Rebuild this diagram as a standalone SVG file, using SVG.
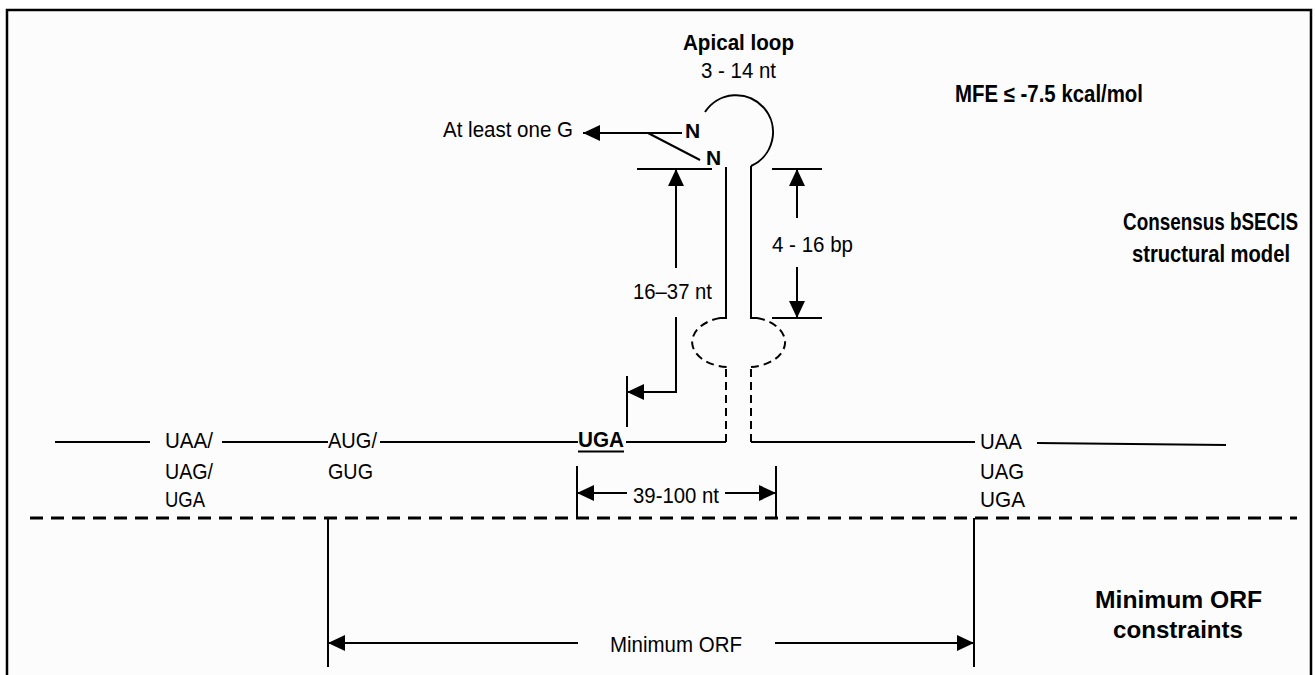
<svg xmlns="http://www.w3.org/2000/svg" width="1315" height="675" viewBox="0 0 1315 675">
<defs>
<style>
.t{font-family:"Liberation Sans",Arial,sans-serif;font-size:22px;fill:#000}
.b{font-weight:bold}
.h{font-weight:bold;font-size:24px;text-anchor:middle}
.ln{stroke:#000;stroke-width:2;fill:none}
.dl{stroke:#000;stroke-width:2;fill:none;stroke-dasharray:8 5}
.ar{stroke:#000;stroke-width:2;fill:none;marker-end:url(#ah)}
</style>
<marker id="ah" markerUnits="userSpaceOnUse" markerWidth="18" markerHeight="16" refX="17" refY="8" orient="auto">
<path d="M0,0 L17,8 L0,16 z" fill="#000"/>
</marker>
</defs>
<rect x="0" y="0" width="1315" height="675" fill="#fff"/>
<rect x="7" y="10" width="1304" height="680" fill="#fcfcfc" stroke="#000" stroke-width="2.5"/>

<g id="connectors">
<path class="ln" d="M55,442H150 M222,442H328 M380,442H578 M626,442H726 M751,442H975 M1037,443L1226,445"/>
<path class="dl" d="M726,442V367 M751,442V367"/>
<path class="dl" d="M720,318 A38,25 0 0 0 727,367 M757,318 A38,25 0 0 1 751,367"/>
<path class="ln" d="M720,318H726V167 M757,318H751V166 M705,112 A37,37 0 1 1 751,166"/>
<path class="ar" d="M682,133H583"/>
<path class="ln" d="M648,133L700,160"/>
<path class="ln" d="M637,169H712"/>
<path class="ar" d="M676,268V169"/>
<path class="ar" d="M676,317V392H627"/>
<path class="ln" d="M627,376V427"/>
<path class="ln" d="M772,169H822 M772,318H822"/>
<path class="ar" d="M797,218V169"/>
<path class="ar" d="M797,267V318"/>
<path class="ln" d="M577,466V518 M776,466V518"/>
<path class="ar" d="M627,493H577"/>
<path class="ar" d="M725,493H776"/>
<path d="M30,518H1297" stroke="#000" stroke-width="3" stroke-dasharray="13 8" fill="none"/>
<path class="ln" d="M328,518V667 M974,518V667"/>
<path class="ar" d="M578,643H328"/>
<path class="ar" d="M775,643H974"/>
<path d="M578,451.5H624" stroke="#000" stroke-width="2"/>
</g>

<g id="apical-loop">
<text class="t b" x="683" y="50" textLength="111" lengthAdjust="spacingAndGlyphs">Apical loop</text>
<text class="t" x="701" y="78" textLength="75" lengthAdjust="spacingAndGlyphs">3 - 14 nt</text>
</g>
<g id="mfe">
<text class="t b" x="955" y="102" style="font-size:23px" textLength="188" lengthAdjust="spacingAndGlyphs">MFE ≤ -7.5 kcal/mol</text>
</g>
<g id="at-least-g">
<text class="t" x="443" y="137" textLength="130" lengthAdjust="spacingAndGlyphs">At least one G</text>
</g>
<g id="n-labels">
<text class="t b" x="685" y="138" style="font-size:21px">N</text>
<text class="t b" x="706" y="165" style="font-size:21px">N</text>
</g>
<g id="len-16-37">
<text class="t" x="633" y="299" textLength="79" lengthAdjust="spacingAndGlyphs">16–37 nt</text>
</g>
<g id="len-4-16">
<text class="t" x="772" y="252" textLength="81" lengthAdjust="spacingAndGlyphs">4 - 16 bp</text>
</g>
<g id="len-39-100">
<text class="t" x="633" y="503" textLength="86" lengthAdjust="spacingAndGlyphs">39-100 nt</text>
</g>
<g id="stop-left">
<text class="t" x="165" y="448" textLength="48" lengthAdjust="spacingAndGlyphs">UAA/</text>
<text class="t" x="165" y="479" textLength="48" lengthAdjust="spacingAndGlyphs">UAG/</text>
<text class="t" x="165" y="507" textLength="40" lengthAdjust="spacingAndGlyphs">UGA</text>
</g>
<g id="start">
<text class="t" x="328" y="448" textLength="49" lengthAdjust="spacingAndGlyphs">AUG/</text>
<text class="t" x="328" y="479" textLength="45" lengthAdjust="spacingAndGlyphs">GUG</text>
</g>
<g id="uga-sec">
<text class="t b" x="578" y="447" textLength="46" lengthAdjust="spacingAndGlyphs">UGA</text>
</g>
<g id="stop-right">
<text class="t" x="980" y="449" textLength="42" lengthAdjust="spacingAndGlyphs">UAA</text>
<text class="t" x="980" y="479" textLength="44" lengthAdjust="spacingAndGlyphs">UAG</text>
<text class="t" x="980" y="507" textLength="45" lengthAdjust="spacingAndGlyphs">UGA</text>
</g>
<g id="bsecis-title">
<text class="t h" transform="translate(1210.5,230) scale(0.8,1)" textLength="218.75" lengthAdjust="spacingAndGlyphs">Consensus bSECIS</text>
<text class="t h" transform="translate(1211,262) scale(0.8,1)" textLength="197.5" lengthAdjust="spacingAndGlyphs">structural model</text>
</g>
<g id="orf-title">
<text class="t h" transform="translate(1178.5,608) scale(0.8,1)" textLength="208.75" lengthAdjust="spacingAndGlyphs">Minimum ORF</text>
<text class="t h" transform="translate(1178,638) scale(0.8,1)" textLength="162.5" lengthAdjust="spacingAndGlyphs">constraints</text>
</g>
<g id="min-orf">
<text class="t" x="610" y="652" textLength="132" lengthAdjust="spacingAndGlyphs">Minimum ORF</text>
</g>
</svg>
